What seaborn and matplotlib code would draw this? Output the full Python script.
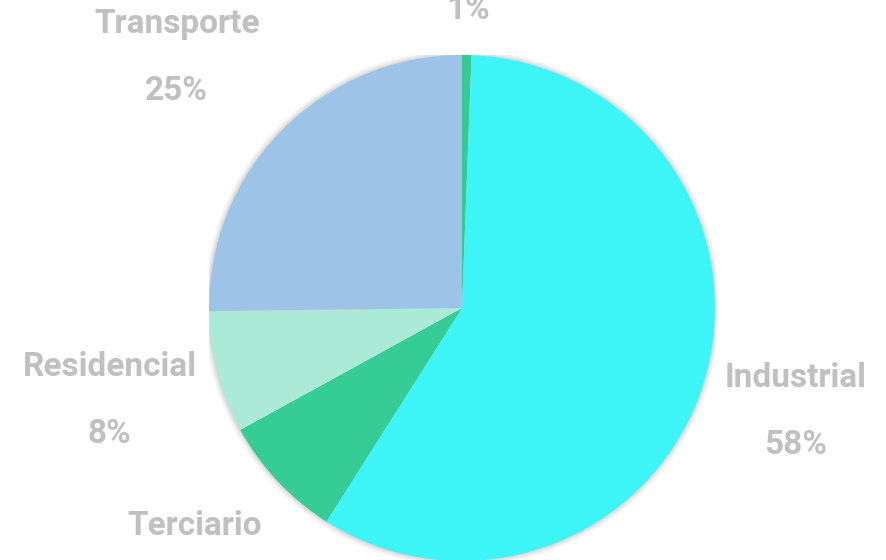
import numpy as np
import matplotlib.pyplot as plt
import seaborn as sns

# Data
sectores = ['Primario', 'Industrial', 'Terciario', 'Residencial', 'Transporte']
valores = [0.6, 58.4, 8.0, 7.8, 25.2]
colores = ['#36c994', '#3df5f7', '#36cc96', '#abead6', '#9dc3e6']
# label distance from the centre (in pie radii) and small angle nudges (deg)
dist_etiqueta = [1.31, 1.38, 1.45, 1.44, 1.50]
giro_etiqueta = [0, 0, 0, 0, 3.4]

sns.set_theme(style="white")
plt.rcParams['font.family'] = ['Roboto', 'DejaVu Sans']

fig = plt.figure(figsize=(8.86, 5.6), dpi=100)
# pie centre ~ (462, 308) px, radius ~ 253 px
ax = fig.add_axes([209 / 886, (560 - 561) / 560, 506 / 886, 506 / 560])

# soft shadow round the pie
for i, a in enumerate([0.05, 0.04, 0.03, 0.02]):
    ax.add_patch(plt.Circle((0, 0), 1.0 + 0.006 * (i + 1), color='#000000', alpha=a, lw=0, zorder=0))

wedges, _ = ax.pie(valores, colors=colores, startangle=90, counterclock=False,
                   radius=1.0, wedgeprops=dict(linewidth=0, zorder=1))
ax.set_xlim(-1, 1)
ax.set_ylim(-1, 1)
ax.set_aspect('equal')

total = sum(valores)
gris = '#c0c0c0'
for w, nombre, v, d, g in zip(wedges, sectores, valores, dist_etiqueta, giro_etiqueta):
    ang = np.deg2rad((w.theta1 + w.theta2) / 2 + g)
    x, y = d * np.cos(ang), d * np.sin(ang)
    ax.annotate(nombre, (x, y), xytext=(0, 24), textcoords='offset points',
                ha='center', va='center', fontsize=24, fontweight='bold', color=gris,
                annotation_clip=False)
    ax.annotate(f'{round(v / total * 100):.0f}%', (x, y), xytext=(0, -24), textcoords='offset points',
                ha='center', va='center', fontsize=24, fontweight='bold', color=gris,
                annotation_clip=False)

fig.savefig('out.png', dpi=100)
